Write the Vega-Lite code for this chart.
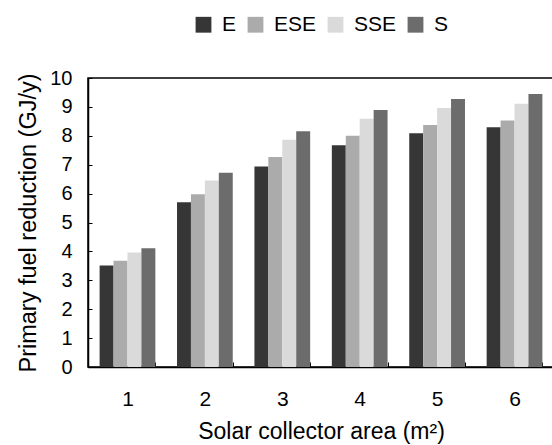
{
  "$schema": "https://vega.github.io/schema/vega-lite/v6.json",
  "width": 466,
  "height": 289,
  "autosize": {"type": "none"},
  "padding": {"left": 88, "top": 78, "right": 0, "bottom": 78},
  "background": "white",
  "config": {
    "font": "Liberation Sans",
    "view": {"stroke": "black", "strokeWidth": 1.5},
    "axis": {"labelColor": "black", "titleColor": "black", "domainColor": "black", "tickColor": "black", "labelFont": "Liberation Sans", "titleFont": "Liberation Sans", "titleFontWeight": "normal"},
    "legend": {"labelFont": "Liberation Sans", "labelColor": "black"}
  },
  "data": {
    "values": [
      {"area": "1", "dir": "E", "v": 3.51}, {"area": "1", "dir": "ESE", "v": 3.68}, {"area": "1", "dir": "SSE", "v": 3.96}, {"area": "1", "dir": "S", "v": 4.11},
      {"area": "2", "dir": "E", "v": 5.70}, {"area": "2", "dir": "ESE", "v": 5.98}, {"area": "2", "dir": "SSE", "v": 6.45}, {"area": "2", "dir": "S", "v": 6.72},
      {"area": "3", "dir": "E", "v": 6.94}, {"area": "3", "dir": "ESE", "v": 7.27}, {"area": "3", "dir": "SSE", "v": 7.86}, {"area": "3", "dir": "S", "v": 8.16},
      {"area": "4", "dir": "E", "v": 7.67}, {"area": "4", "dir": "ESE", "v": 8.00}, {"area": "4", "dir": "SSE", "v": 8.59}, {"area": "4", "dir": "S", "v": 8.89},
      {"area": "5", "dir": "E", "v": 8.09}, {"area": "5", "dir": "ESE", "v": 8.37}, {"area": "5", "dir": "SSE", "v": 8.96}, {"area": "5", "dir": "S", "v": 9.27},
      {"area": "6", "dir": "E", "v": 8.30}, {"area": "6", "dir": "ESE", "v": 8.53}, {"area": "6", "dir": "SSE", "v": 9.11}, {"area": "6", "dir": "S", "v": 9.45}
    ]
  },
  "mark": {"type": "bar"},
  "encoding": {
    "x": {
      "field": "area", "type": "nominal",
      "scale": {"paddingInner": 0.28, "paddingOuter": 0.15},
      "axis": {
        "title": "Solar collector area  (m²)",
        "titleFontSize": 23, "titlePadding": 11,
        "labelAngle": 0, "labelFontSize": 21, "labelPadding": 26,
        "tickBand": "extent", "tickSize": -5, "domainWidth": 1.5
      }
    },
    "xOffset": {"field": "dir", "type": "nominal", "sort": ["E", "ESE", "SSE", "S"], "scale": {"paddingInner": 0, "paddingOuter": 0}},
    "y": {
      "field": "v", "type": "quantitative",
      "scale": {"domain": [0, 10], "nice": false},
      "axis": {
        "title": "Primary fuel reduction (GJ/y)",
        "titleFontSize": 23.5, "titlePadding": 9,
        "values": [0,1,2,3,4,5,6,7,8,9,10],
        "labelFontSize": 20, "labelPadding": 20, "tickSize": -4, "domainWidth": 1.5, "grid": false
      }
    },
    "fill": {
      "field": "dir", "type": "nominal", "sort": ["E", "ESE", "SSE", "S"],
      "scale": {"domain": ["E", "ESE", "SSE", "S"], "range": ["#363636", "#ababab", "#dadada", "#6c6c6c"]},
      "legend": {
        "title": null, "orient": "none", "direction": "horizontal",
        "legendX": 105, "legendY": -64,
        "symbolType": "square", "symbolSize": 250, "symbolStrokeWidth": 0,
        "labelFontSize": 21, "labelOffset": 8, "columnPadding": 8
      }
    }
  }
}
